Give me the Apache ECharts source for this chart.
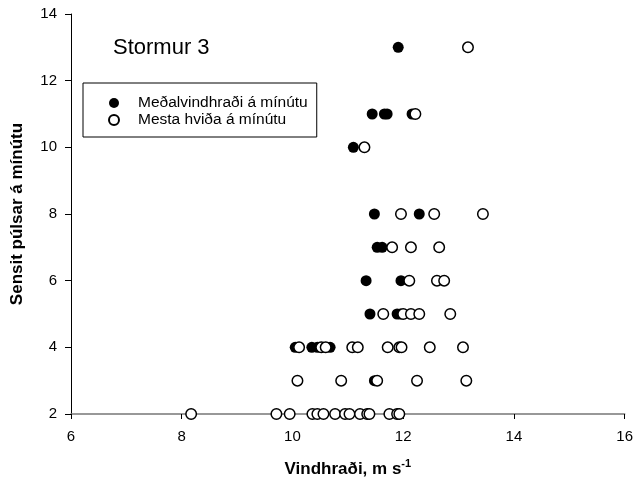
<!DOCTYPE html>
<html>
<head>
<meta charset="utf-8">
<script src="https://cdn.jsdelivr.net/npm/echarts@6/dist/echarts.min.js"></script>
<style>
  html, body { margin: 0; padding: 0; background: #fff; }
  #chart { width: 636px; height: 488px; }
</style>
</head>
<body>
<div id="chart"></div>
<script>
// Meðalvindhraði á mínútu (fyllt) - [vindhraði, púlsar]
var meanX = [11.91, 11.44, 11.66, 11.71, 12.16, 11.10, 11.48, 12.29, 11.53, 11.62, 11.33, 11.96,
             11.40, 11.89, 11.95, 10.05, 10.35, 10.45, 10.68, 11.48];
var meanY = [13, 11, 11, 11, 11, 10, 8, 8, 7, 7, 6, 6,
             5, 5, 5, 4, 4, 4, 4, 3];
// Mesta hviða á mínútu (opið)
var gustX = [13.17, 12.22, 11.30, 11.96, 12.56, 13.44, 11.80, 12.14, 12.65, 12.11, 12.61, 12.74,
             11.64, 12.00, 12.14, 12.29, 12.85,
             10.12, 10.52, 10.60, 11.08, 11.18, 11.72, 11.93, 11.97, 12.48, 13.08,
             10.09, 10.88, 11.53, 12.25, 13.14,
             8.17, 9.71, 9.95, 10.36, 10.45, 10.56, 10.77, 10.95, 11.03, 11.22, 11.35, 11.39, 11.75, 11.89, 11.93];
var gustY = [13, 11, 10, 8, 8, 8, 7, 7, 7, 6, 6, 6,
             5, 5, 5, 5, 5,
             4, 4, 4, 4, 4, 4, 4, 4, 4, 4,
             3, 3, 3, 3, 3,
             2, 2, 2, 2, 2, 2, 2, 2, 2, 2, 2, 2, 2, 2, 2];
var xTicks = [6, 8, 10, 12, 14, 16];
var yTicks = [2, 4, 6, 8, 10, 12, 14];

function pairs(xs, ys) {
    var out = [];
    for (var i = 0; i < xs.length; i++) out.push([xs[i], ys[i]]);
    return out;
}

var font = 'Arial, "Liberation Sans", sans-serif';
var myChart = echarts.init(document.getElementById('chart'), null, { renderer: 'canvas' });

myChart.setOption({
    animation: false,
    backgroundColor: '#fff',
    textStyle: { fontFamily: font, color: '#000' },
    title: {
        text: 'Stormur 3',
        left: 108, top: 32,
        textStyle: { fontFamily: font, fontSize: 22, fontWeight: 'normal', color: '#000' }
    },
    grid: { left: 71, right: 10, top: 14, bottom: 74, containLabel: false },
    legend: {
        orient: 'vertical',
        left: 83, top: 83,
        padding: [12, 9, 9, 25],
        itemWidth: 10, itemHeight: 10, itemGap: 1,
        borderColor: '#000', borderWidth: 1,
        textStyle: { fontFamily: font, fontSize: 15.5, lineHeight: 14, color: '#000', padding: [0, 0, 0, 14] },
        data: ['Meðalvindhraði á mínútu', 'Mesta hviða á mínútu']
    },
    xAxis: {
        type: 'value', min: xTicks[0], max: xTicks[xTicks.length - 1], interval: 2,
        name: '{a|Vindhraði, m s}{b|-1}',
        nameLocation: 'middle', nameGap: 44,
        nameTextStyle: {
            rich: {
                a: { fontFamily: font, fontSize: 17, fontWeight: 'bold', color: '#000' },
                b: { fontFamily: font, fontSize: 11, fontWeight: 'bold', color: '#000', padding: [0, 0, 11, 0] }
            }
        },
        axisLine: { lineStyle: { color: '#777', width: 1.5 } },
        axisTick: { show: true, length: 5, lineStyle: { color: '#000' } },
        axisLabel: { fontFamily: font, fontSize: 15, color: '#000', margin: 15 },
        splitLine: { show: false }
    },
    yAxis: {
        type: 'value', min: yTicks[0], max: yTicks[yTicks.length - 1], interval: 2,
        name: 'Sensit púlsar á mínútu',
        nameLocation: 'middle', nameGap: 45, nameRotate: 90,
        nameTextStyle: { fontFamily: font, fontSize: 17, fontWeight: 'bold', color: '#000' },
        axisLine: { lineStyle: { color: '#000', width: 1 } },
        axisTick: { show: true, length: 6, lineStyle: { color: '#000' } },
        axisLabel: { fontFamily: font, fontSize: 15, color: '#000', margin: 14 },
        splitLine: { show: false }
    },
    series: [
        {
            name: 'Meðalvindhraði á mínútu',
            type: 'scatter',
            symbol: 'circle', symbolSize: 11,
            itemStyle: { color: '#000', opacity: 1 },
            data: pairs(meanX, meanY),
            z: 2
        },
        {
            name: 'Mesta hviða á mínútu',
            type: 'scatter',
            symbol: 'circle', symbolSize: 10.5,
            itemStyle: { color: '#fff', borderColor: '#000', borderWidth: 1.5, opacity: 1 },
            data: pairs(gustX, gustY),
            z: 3
        }
    ]
});
</script>
</body>
</html>
